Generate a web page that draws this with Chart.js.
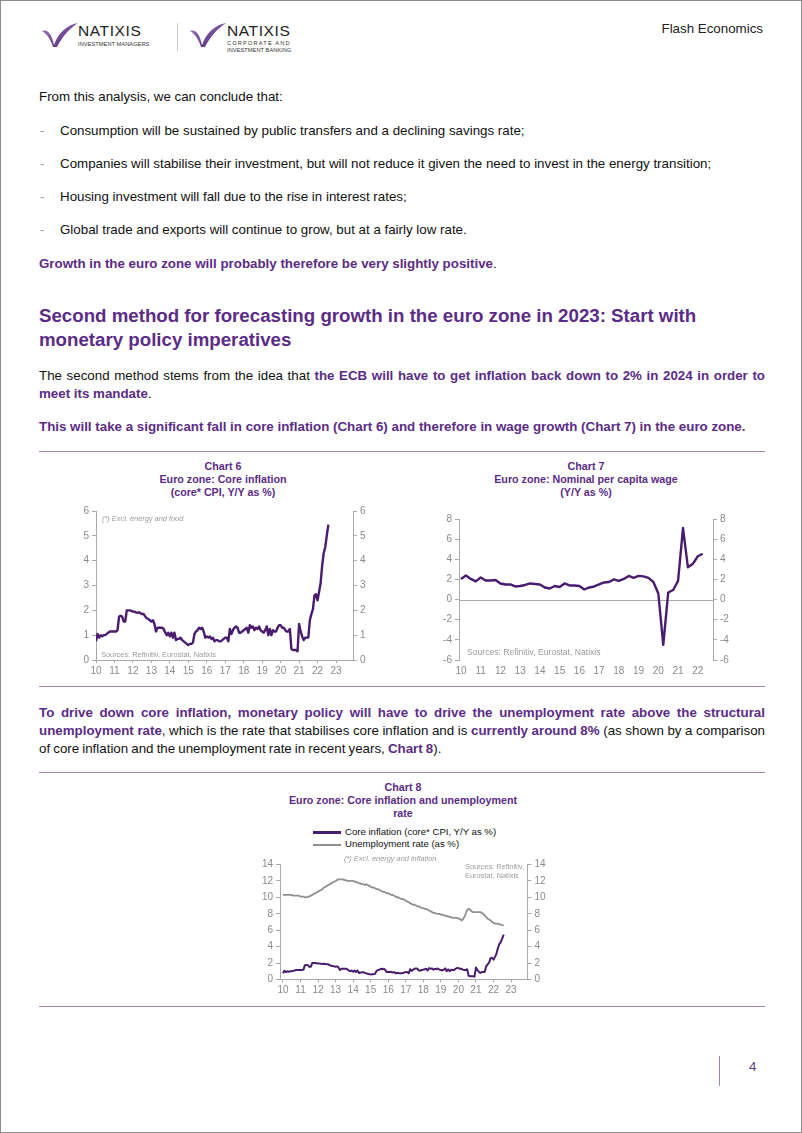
<!DOCTYPE html>
<html>
<head>
<meta charset="utf-8">
<script src="https://cdn.jsdelivr.net/npm/chart.js@4.4.0/dist/chart.umd.min.js"></script>
<style>
  body { margin: 0; background: #fff; }
  #page { position: relative; width: 800px; height: 1131px; border: 1px solid #8c8c8c; overflow: hidden;
          font-family: "Liberation Sans", Arial, sans-serif; color: #111; }
  .t { position: absolute; font-size: 13.33px; line-height: 18px; white-space: nowrap; }
  .p { color: #5b2c86; font-weight: bold; }
  .dash { position: absolute; left: 39px; color: #9a9a9a; font-size: 13.33px; line-height: 18px; }
  .rule { position: absolute; left: 38px; width: 726px; height: 1px; background: #9d84b3; }
  .ctitle { position: absolute; text-align: center; color: #5b2c86; font-weight: bold; font-size: 10.7px; line-height: 13px; }
  .note { position: absolute; color: #9b9b9b; font-size: 7.4px; line-height: 9px; white-space: nowrap; z-index: 2; }
  canvas { position: absolute; }
</style>
</head>
<body>
<div id="page">

  <!-- header -->
  <svg style="position:absolute;left:41px;top:21px" width="36" height="26" viewBox="0 0 36 26">
    <defs><linearGradient id="g1" x1="0" y1="0" x2="1" y2="1"><stop offset="0" stop-color="#a07cc0"/><stop offset="1" stop-color="#4d1f72"/></linearGradient></defs>
    <path d="M0 9 C6 7 10 13 12 23 C16 11 25 3 36 1 C27 7 20 15 15 25 L11 25 C9 18 5 12 0 9 Z" fill="url(#g1)"/>
  </svg>
  <div class="t" style="left:77px;top:21px;font-size:15.5px;letter-spacing:0.6px;color:#222">NATIXIS</div>
  <div class="t" style="left:77px;top:38px;font-size:5.6px;line-height:10px;letter-spacing:0.1px;color:#333">INVESTMENT MANAGERS</div>
  <div style="position:absolute;left:176px;top:22px;width:1px;height:28px;background:#c8c8c8"></div>
  <svg style="position:absolute;left:189px;top:21px" width="36" height="26" viewBox="0 0 36 26">
    <path d="M0 9 C6 7 10 13 12 23 C16 11 25 3 36 1 C27 7 20 15 15 25 L11 25 C9 18 5 12 0 9 Z" fill="url(#g1)"/>
  </svg>
  <div class="t" style="left:226px;top:21px;font-size:15.5px;letter-spacing:0.6px;color:#222">NATIXIS</div>
  <div class="t" style="left:226px;top:39px;font-size:5.6px;line-height:7px;letter-spacing:1.2px;color:#333">CORPORATE AND</div>
  <div class="t" style="left:226px;top:46px;font-size:5.6px;line-height:7px;letter-spacing:0.1px;color:#333">INVESTMENT BANKING</div>
  <div class="t" style="right:38px;top:19px;color:#222">Flash Economics</div>

  <!-- body text -->
  <div class="t" style="left:38px;top:87px">From this analysis, we can conclude that:</div>
  <div class="dash" style="top:121px">-</div>
  <div class="t" style="left:59px;top:121px">Consumption will be sustained by public transfers and a declining savings rate;</div>
  <div class="dash" style="top:154px">-</div>
  <div class="t" style="left:59px;top:154px">Companies will stabilise their investment, but will not reduce it given the need to invest in the energy transition;</div>
  <div class="dash" style="top:187px">-</div>
  <div class="t" style="left:59px;top:187px">Housing investment will fall due to the rise in interest rates;</div>
  <div class="dash" style="top:220px">-</div>
  <div class="t" style="left:59px;top:220px">Global trade and exports will continue to grow, but at a fairly low rate.</div>
  <div class="t" style="left:38px;top:254px"><span class="p">Growth in the euro zone will probably therefore be very slightly positive</span>.</div>

  <div class="t" style="left:38px;top:303px;font-size:18.7px;line-height:24px;font-weight:bold;color:#5b2c86;white-space:normal;width:726px">Second method for forecasting growth in the euro zone in 2023: Start with monetary policy imperatives</div>

  <div class="t" style="left:38px;top:366px;width:726px;white-space:normal;text-align:justify">The second method stems from the idea that <span class="p">the ECB will have to get inflation back down to 2% in 2024 in order to meet its mandate</span>.</div>
  <div class="t p" style="left:38px;top:417px">This will take a significant fall in core inflation (Chart 6) and therefore in wage growth (Chart 7) in the euro zone.</div>

  <div class="rule" style="top:450px"></div>

  <!-- chart 6 -->
  <div class="ctitle" style="left:82px;width:280px;top:459px">Chart 6<br>Euro zone: Core inflation<br>(core* CPI, Y/Y as %)</div>
  <canvas id="chart6" width="320" height="182" style="left:60px;top:500px"></canvas>
  <div class="note" style="left:101px;top:513px;font-style:italic">(*) Excl. energy and food</div>
  <div class="note" style="left:100px;top:649px">Sources: Refinitiv, Eurostat, Natixis</div>

  <!-- chart 7 -->
  <div class="ctitle" style="left:445px;width:280px;top:459px">Chart 7<br>Euro zone: Nominal per capita wage<br>(Y/Y as %)</div>
  <canvas id="chart7" width="320" height="175" style="left:420px;top:505px"></canvas>
  <div class="note" style="left:466px;top:646px;font-size:8.6px;line-height:10px">Sources: Refinitiv, Eurostat, Natixis</div>

  <div class="rule" style="top:685px"></div>

  <div class="t" style="left:38px;top:703px;width:726px;white-space:normal;text-align:justify;word-spacing:-0.6px"><span class="p">To drive down core inflation, monetary policy will have to drive the unemployment rate above the structural unemployment rate</span>, which is the rate that stabilises core inflation and is <span class="p">currently around 8%</span> (as shown by a comparison of core inflation and the unemployment rate in recent years, <span class="p">Chart 8</span>).</div>

  <div class="rule" style="top:771px"></div>

  <!-- chart 8 -->
  <div class="ctitle" style="left:262px;width:280px;top:780px">Chart 8<br>Euro zone: Core inflation and unemployment<br>rate</div>
  <div style="position:absolute;left:312px;top:830px;width:28px;height:2.5px;background:#4a1c6e"></div>
  <div class="t" style="left:344px;top:825px;font-size:9.6px;line-height:12px">Core inflation (core* CPI, Y/Y as %)</div>
  <div style="position:absolute;left:312px;top:843px;width:28px;height:2px;background:#8f8f8f"></div>
  <div class="t" style="left:344px;top:837px;font-size:9.6px;line-height:12px">Unemployment rate (as %)</div>
  <canvas id="chart8" width="320" height="152" style="left:240px;top:850px"></canvas>
  <div class="note" style="left:343px;top:853px;font-style:italic">(*) Excl. energy and inflation</div>
  <div class="note" style="left:464px;top:861px">Sources: Refinitiv,<br>Eurostat, Natixis</div>

  <div class="rule" style="top:1005px"></div>

  <!-- footer -->
  <div style="position:absolute;left:718px;top:1055px;width:1px;height:30px;background:#9d84b3"></div>
  <div class="t" style="left:748px;top:1057px;color:#5e3f86">4</div>
</div>

<script>
// ==================== DATA ====================

// core inflation (core* CPI, Y/Y %), monthly Jan 2010 – Aug 2022
const coreInflation = [
    0.76, 1.05, 0.90, 1.00, 0.95, 1.00, 1.00, 1.05, 1.10, 1.15, 1.15, 1.15,   // 2010
    1.15, 1.15, 1.20, 1.75, 1.78, 1.75, 1.55, 1.55, 2.00, 2.00, 2.00, 1.98,   // 2011
    1.95, 1.95, 1.92, 1.90, 1.92, 1.88, 1.85, 1.85, 1.75, 1.68, 1.65, 1.60,   // 2012
    1.55, 1.60, 1.45, 1.15, 1.30, 1.30, 1.30, 1.30, 1.25, 1.10, 1.00, 1.10,   // 2013
    0.95, 1.10, 0.90, 1.10, 0.80, 0.85, 0.85, 0.90, 0.80, 0.75, 0.70, 0.65,   // 2014
    0.60, 0.65, 0.65, 0.70, 1.05, 1.15, 1.20, 1.30, 1.25, 1.30, 1.15, 0.90,   // 2015
    0.95, 0.90, 0.95, 0.85, 0.90, 0.75, 0.80, 0.80, 0.75, 0.75, 0.80, 0.85,   // 2016
    0.90, 0.90, 0.75, 1.25, 1.05, 1.20, 1.30, 1.35, 1.30, 1.10, 1.10, 1.15,   // 2017
    1.20, 1.25, 1.30, 1.10, 1.40, 1.30, 1.35, 1.20, 1.30, 1.25, 1.35, 1.20,   // 2018
    1.15, 1.10, 1.20, 1.35, 1.00, 1.25, 1.00, 1.20, 1.15, 1.15, 1.30, 1.40,   // 2019
    1.40, 1.30, 1.30, 1.20, 1.15, 1.15, 1.25, 0.45, 0.40, 0.40, 0.40, 0.35,   // 2020
    1.45, 1.15, 0.95, 0.80, 0.90, 0.90, 0.90, 1.60, 1.85, 2.05, 2.60, 2.65,   // 2021
    2.40, 2.75, 3.10, 3.80, 4.30, 4.55, 5.00, 5.45                            // 2022
];

// nominal per capita wage (Y/Y %), quarterly Q1 2010 – Q2 2022
const wageGrowth = [
    2.05, 2.40, 2.05, 1.80,    // 2010
    2.20, 1.90, 1.90, 1.95,    // 2011
    1.60, 1.50, 1.50, 1.30,    // 2012
    1.35, 1.45, 1.60, 1.55,    // 2013
    1.50, 1.20, 1.10, 1.35,    // 2014
    1.25, 1.60, 1.40, 1.40,    // 2015
    1.35, 1.00, 1.20, 1.30,    // 2016
    1.50, 1.70, 1.75, 2.00,    // 2017
    1.85, 2.05, 2.35, 2.15,    // 2018
    2.35, 2.30, 2.15, 1.75,    // 2019
    0.60, -4.50, 0.70, 0.95,   // 2020
    1.85, 7.10, 3.20, 3.55,    // 2021
    4.30, 4.55                 // 2022
];

// unemployment rate (%), monthly Jan 2010 – Aug 2022
const unemploymentRate = [
    10.3, 10.3, 10.3, 10.3, 10.3, 10.3, 10.3, 10.2, 10.2, 10.2, 10.2, 10.2,   // 2010
    10.1, 10.1, 10.1, 10.0, 10.0, 10.1, 10.1, 10.2, 10.3, 10.4, 10.5, 10.6,   // 2011
    10.7, 10.8, 10.9, 11.0, 11.2, 11.3, 11.4, 11.5, 11.6, 11.7, 11.8, 11.9,   // 2012
    12.0, 12.1, 12.2, 12.2, 12.2, 12.2, 12.1, 12.1, 12.0, 12.0, 12.0, 12.0,   // 2013
    12.0, 11.9, 11.9, 11.8, 11.7, 11.7, 11.6, 11.6, 11.5, 11.6, 11.5, 11.4,   // 2014
    11.3, 11.2, 11.2, 11.1, 11.0, 11.0, 10.9, 10.8, 10.7, 10.7, 10.6, 10.5,   // 2015
    10.5, 10.4, 10.3, 10.3, 10.2, 10.1, 10.0, 10.0,  9.9,  9.8,  9.8,  9.7,   // 2016
     9.6,  9.5,  9.4,  9.3,  9.2,  9.1,  9.1,  9.0,  8.9,  8.9,  8.8,  8.7,   // 2017
     8.7,  8.6,  8.6,  8.5,  8.4,  8.3,  8.2,  8.1,  8.1,  8.0,  8.0,  8.0,   // 2018
     7.9,  7.9,  7.8,  7.8,  7.7,  7.7,  7.6,  7.6,  7.5,  7.5,  7.5,  7.5,   // 2019
     7.4,  7.4,  7.2,  7.3,  7.6,  8.0,  8.5,  8.6,  8.5,  8.3,  8.2,  8.2,   // 2020
     8.2,  8.2,  8.2,  8.2,  8.1,  8.0,  7.8,  7.6,  7.4,  7.3,  7.2,  7.0,   // 2021
     6.9,  6.8,  6.8,  6.8,  6.7,  6.7,  6.6,  6.6                            // 2022
];

// tick labels (two-digit years on x)
const yearTicks6 = [10, 11, 12, 13, 14, 15, 16, 17, 18, 19, 20, 21, 22, 23];
const yearTicks7 = [10, 11, 12, 13, 14, 15, 16, 17, 18, 19, 20, 21, 22];
const yearTicks8 = [10, 11, 12, 13, 14, 15, 16, 17, 18, 19, 20, 21, 22, 23];
const valueTicks6 = [0, 1, 2, 3, 4, 5, 6];
const valueTicks7 = [-6, -4, -2, 0, 2, 4, 6, 8];
const valueTicks8 = [0, 2, 4, 6, 8, 10, 12, 14];

// ==================== STYLE ====================

const PURPLE = '#4a1c6e';
const GREY_LINE = '#8f8f8f';
const AXIS = '#a9a9a9';
const TICK = '#8a8a8a';
const FONT = '"Liberation Sans", Arial, sans-serif';

// series start in 2010, x = two-digit year as a decimal
function toPoints(values, perYear) {
    return values.map((v, i) => ({ x: 10 + i / perYear, y: v }));
}

function xAxis(min, max, ticks, height, showLine) {
    return {
        type: 'linear', min, max,
        afterBuildTicks: s => { s.ticks = ticks.map(v => ({ value: v })); },
        afterFit: s => { s.height = height; },
        ticks: { color: TICK, font: { size: 10, family: FONT }, maxRotation: 0, autoSkip: false, padding: 2 },
        grid: { display: showLine, drawOnChartArea: false, tickLength: 3, color: AXIS },
        border: { display: showLine, color: AXIS }
    };
}

function yAxis(position, min, max, ticks, width) {
    return {
        position, min, max,
        afterBuildTicks: s => { s.ticks = ticks.map(v => ({ value: v })); },
        afterFit: s => { s.width = width; },
        ticks: { color: TICK, font: { size: 10, family: FONT }, padding: 3 },
        grid: { drawOnChartArea: false, tickLength: 4, color: AXIS },
        border: { color: AXIS }
    };
}

// horizontal line at zero (chart 7)
const zeroLine = {
    id: 'zeroLine',
    beforeDatasetsDraw(chart) {
        const { ctx, chartArea, scales } = chart;
        const y = Math.round(scales.y.getPixelForValue(0)) + 0.5;
        ctx.save();
        ctx.strokeStyle = AXIS;
        ctx.lineWidth = 1;
        ctx.beginPath();
        ctx.moveTo(chartArea.left, y);
        ctx.lineTo(chartArea.right, y);
        ctx.stroke();
        ctx.restore();
    }
};

function lineSet(data, color, width) {
    return {
        data, borderColor: color, borderWidth: width, borderJoinStyle: 'round',
        pointRadius: 0, tension: 0, fill: false, yAxisID: 'y'
    };
}

const baseOptions = (padTop, scales) => ({
    responsive: false,
    animation: false,
    layout: { padding: { top: padTop, left: 0, right: 0, bottom: 0 } },
    plugins: { legend: { display: false }, tooltip: { enabled: false } },
    scales
});

// ── Chart 6 ────────────────────────────────────────────────────────
new Chart(document.getElementById('chart6'), {
    type: 'line',
    data: { datasets: [lineSet(toPoints(coreInflation, 12), PURPLE, 2.4)] },
    options: baseOptions(10, {
        x: xAxis(10, 23.92, yearTicks6, 23, true),
        y: yAxis('left', 0, 6, valueTicks6, 35),
        y2: yAxis('right', 0, 6, valueTicks6, 28)
    })
});

// ── Chart 7 ────────────────────────────────────────────────────────
new Chart(document.getElementById('chart7'), {
    type: 'line',
    data: { datasets: [lineSet(toPoints(wageGrowth, 4), PURPLE, 2.4)] },
    options: baseOptions(13, {
        x: xAxis(9.9, 22.77, yearTicks7, 21, false),
        y: yAxis('left', -6, 8, valueTicks7, 38),
        y2: yAxis('right', -6, 8, valueTicks7, 28)
    }),
    plugins: [zeroLine]
});

// ── Chart 8 ────────────────────────────────────────────────────────
new Chart(document.getElementById('chart8'), {
    type: 'line',
    data: {
        datasets: [
            lineSet(toPoints(unemploymentRate, 12), GREY_LINE, 1.8),
            lineSet(toPoints(coreInflation, 12), PURPLE, 2)
        ]
    },
    options: baseOptions(13.5, {
        x: xAxis(9.83, 23.94, yearTicks8, 23.5, true),
        y: yAxis('left', 0, 14, valueTicks8, 39),
        y2: yAxis('right', 0, 14, valueTicks8, 33.5)
    })
});
</script>
</body>
</html>
